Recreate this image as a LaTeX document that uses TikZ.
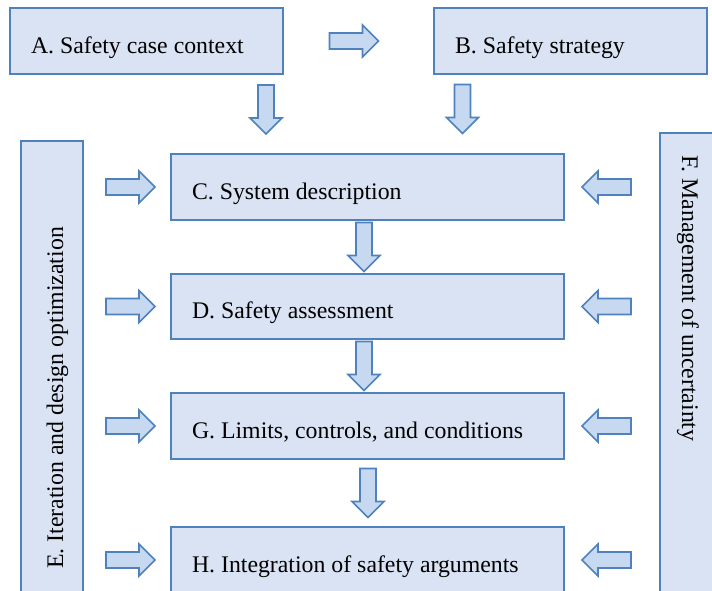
\documentclass[tikz,border=0pt]{standalone}
\usepackage{fontspec}
\setmainfont{Liberation Serif}
\usetikzlibrary{calc}

\definecolor{boxfill}{HTML}{DAE3F3}
\definecolor{boxline}{HTML}{4F81BD}
\definecolor{arrowfill}{HTML}{C6D9F1}

\tikzset{
  stagebox/.style={draw=boxline, fill=boxfill, line width=1.6pt, rectangle,
    inner sep=0pt, outer sep=0pt, font=\fontsize{23.8}{28}\selectfont},
  textbox/.style={stagebox, inner xsep=21pt, align=flush left,
    text height=24pt, text depth=0pt},
  fatarrow/.style={draw=boxline, fill=arrowfill, line width=1.6pt,
    line join=miter},
  sidetext/.style={font=\fontsize{23.8}{28}\selectfont, inner sep=0pt}
}

% block arrow: name, centre, direction angle
\newcommand\blockarrow[3]{%
  \coordinate (#1) at #2;
  \draw[fatarrow, shift={(#1)}, rotate=#3]
    (-24.5,-8) -- (8.5,-8) -- (8.5,-16) -- (24.5,0) -- (8.5,16)
    -- (8.5,8) -- (-24.5,8) -- cycle;}

\begin{document}
\begin{tikzpicture}[x=1pt, y=-1pt]
  \useasboundingbox (0,0) rectangle (712,590);

  % top row
  \node[textbox, minimum width=273pt, minimum height=66pt, text width=231pt]
    (A) at (146.5,41) {A. Safety case context};
  \node[textbox, minimum width=273pt, minimum height=66pt, text width=231pt]
    (B) at (570.5,41) {B. Safety strategy};

  % side panels
  \node[stagebox, minimum width=62pt, minimum height=509pt] (E) at (52,395.5) {};
  \node[stagebox, minimum width=110pt, minimum height=517pt] (F) at (715,391.5) {};
  \node[sidetext, rotate=90, anchor=base west] (Etext) at (63,569)
    {E. Iteration and design optimization};
  \node[sidetext, rotate=-90, anchor=base west] (Ftext) at (682,155)
    {F. Management of uncertainty};

  % main column
  \node[textbox, minimum width=393pt, minimum height=66pt, text width=351pt]
    (C) at (367.5,187) {C. System description};
  \node[textbox, minimum width=393pt, minimum height=65pt, text width=351pt]
    (D) at (367.5,306.5) {D. Safety assessment};
  \node[textbox, minimum width=393pt, minimum height=66pt, text width=351pt]
    (G) at (367.5,426) {G. Limits, controls, and conditions};
  \node[textbox, minimum width=393pt, minimum height=66pt, text width=351pt]
    (H) at (367.5,560) {H. Integration of safety arguments};

  % flow between the top boxes and into the column
  \blockarrow{AtoB}{($(A.east)!0.47!(B.west)$)}{0}
  \blockarrow{AtoC}{([shift={(-17,35.5)}]A.south east)}{-90}
  \blockarrow{BtoC}{([shift={(28.5,35)}]B.south west)}{-90}

  % flow down the column
  \blockarrow{CtoD}{([xshift=-3.5pt]$(C.south)!0.5!(D.north)$)}{-90}
  \blockarrow{DtoG}{([xshift=-3.5pt]$(D.south)!0.5!(G.north)$)}{-90}
  \blockarrow{GtoH}{([xshift=0.5pt]$(G.south)!0.5!(H.north)$)}{-90}

  % inputs from the side panels
  \foreach \s in {C,D,G,H}{
    \blockarrow{E\s}{(130.5,0 |- \s.west)}{0}
    \blockarrow{F\s}{(606.5,0 |- \s.east)}{180}
  }
\end{tikzpicture}
\end{document}
